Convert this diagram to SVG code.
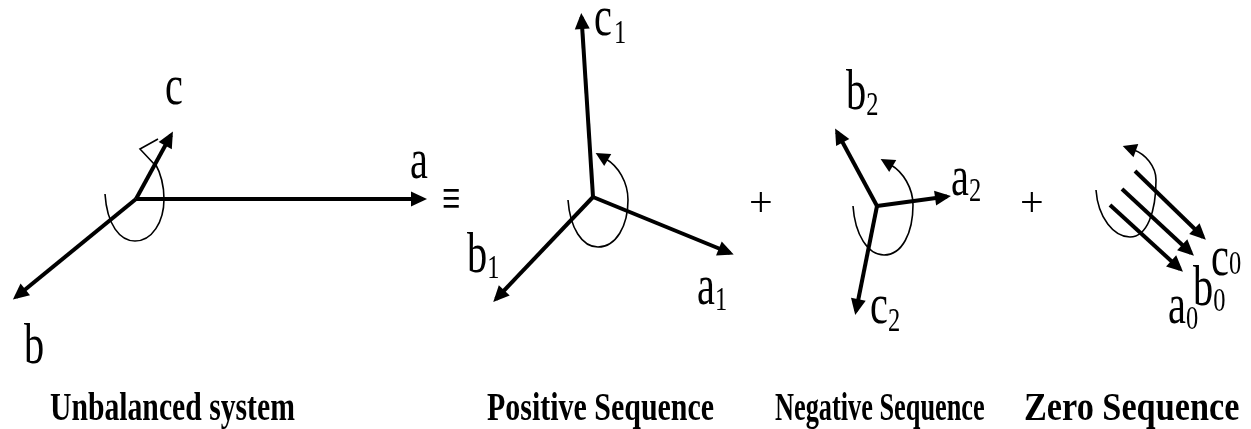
<svg xmlns="http://www.w3.org/2000/svg" width="1251" height="429" viewBox="0 0 1251 429">
<defs>
<marker id="head" markerUnits="userSpaceOnUse" markerWidth="20" markerHeight="16" refX="12" refY="8" orient="auto" overflow="visible"><path d="M0,0.500 L16,8 L0,15.500 Z" fill="#000"/></marker>
<marker id="small" markerUnits="userSpaceOnUse" markerWidth="18" markerHeight="16" refX="2" refY="8" orient="auto" overflow="visible"><path d="M0,1 L14,8 L0,15 Z" fill="#000"/></marker>
<filter id="soft" x="-2%" y="-5%" width="104%" height="110%"><feGaussianBlur stdDeviation="0.55"/></filter>
<style>
.v{fill:none;stroke:#000;stroke-width:4;marker-end:url(#head)}
.arc{fill:none;stroke:#000;stroke-width:1.6}
.r{fill:none;stroke:#000;stroke-width:1.6;marker-end:url(#small)}
text{font-family:"Liberation Serif","Times New Roman",serif;fill:#000}
.l{font-size:56px}
.s{font-size:34px}
.cap{font-size:40px;font-weight:bold}
.op{font-size:42px}
.eq{font-size:56px}
</style>
</defs>
<rect width="1251" height="429" fill="#fff"/>
<g filter="url(#soft)">
<g id="connectors">
<path class="v" d="M136,199 L423,199"/>
<path class="v" d="M136,199 L171,135"/>
<path class="v" d="M136,199 L16,297"/>
<path class="arc" d="M105,194 C107,225 120,241 135,241 C152,241 164,222 164,199 C164,185 160,172 155,163"/>
<path class="arc" d="M155,165 L140,149 L158,139" stroke-width="2.500"/>
<path class="v" d="M593,197 L581.500,17"/>
<path class="v" d="M593,197 L730,253"/>
<path class="v" d="M593,197 L496,299"/>
<path class="r" d="M568,200 C570,228 582,247 598,247 C616,247 628,226 628,200 C628,182 618,166 606,159"/>
<path class="v" d="M877,206 L837,132"/>
<path class="v" d="M877,206 L947,196.500"/>
<path class="v" d="M877,206 L856,311"/>
<path class="r" d="M853,206 C855,235 868,255 884,255 C902,255 913,233 913,205 C913,188 903,172 891,165"/>
<path class="v" d="M1135,171 L1203,237"/>
<path class="v" d="M1122,189 L1191,253"/>
<path class="v" d="M1110,205 L1180,269"/>
<path class="r" d="M1096,190 C1098,218 1114,237 1130,237 C1147,237 1156,212 1156,180 C1156,166 1145,154 1134,150"/>
</g>
<g id="unbalanced">
<text class="l" transform="translate(165,104) scale(.72,1)">c</text>
<text class="l" transform="translate(410,178) scale(.72,1)">a</text>
<text class="l" transform="translate(24,363) scale(.72,1)">b</text>
<text class="cap" transform="translate(50,420) scale(.742,1)">Unbalanced system</text>
</g>
<text id="equiv" class="eq" transform="translate(442,217) scale(.58,1)">≡</text>
<g id="positive">
<text class="l" transform="translate(594,35) scale(.72,1)">c<tspan class="s" dy="8" dx="3">1</tspan></text>
<text class="l" transform="translate(467,272) scale(.72,1)">b<tspan class="s" dy="6">1</tspan></text>
<text class="l" transform="translate(697,304) scale(.72,1)">a<tspan class="s" dy="6">1</tspan></text>
<text class="cap" transform="translate(487,420) scale(.749,1)">Positive Sequence</text>
</g>
<text id="plus1" class="op" x="749" y="216">+</text>
<g id="negative">
<text class="l" transform="translate(846,109) scale(.72,1)">b<tspan class="s" dy="6">2</tspan></text>
<text class="l" transform="translate(951,195) scale(.72,1)">a<tspan class="s" dy="6">2</tspan></text>
<text class="l" transform="translate(870,323) scale(.72,1)">c<tspan class="s" dy="8">2</tspan></text>
<text class="cap" transform="translate(775,420) scale(.658,1)">Negative Sequence</text>
</g>
<text id="plus2" class="op" x="1020" y="216">+</text>
<g id="zero">
<text class="l" transform="translate(1168,323) scale(.72,1)">a<tspan class="s" dy="6">0</tspan></text>
<text class="l" transform="translate(1193,305) scale(.72,1)">b<tspan class="s" dy="6">0</tspan></text>
<text class="l" transform="translate(1211,275) scale(.72,1)">c<tspan class="s" dy="-1">0</tspan></text>
<text class="cap" transform="translate(1024,420) scale(.857,1)">Zero Sequence</text>
</g>
</g>
</svg>
